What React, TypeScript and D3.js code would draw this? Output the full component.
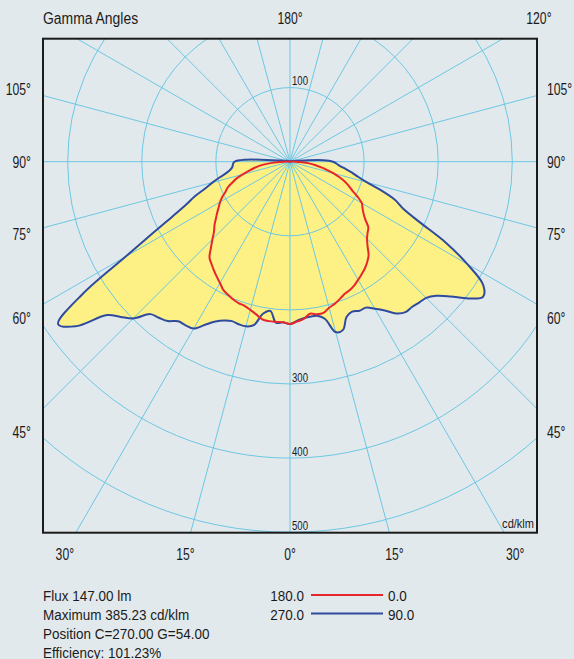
import React, { useEffect, useRef } from "react"
import * as d3 from "d3"

// gamma angles (deg from nadir) shared by all C-planes
const gammaAngles = [
  0, 2.5, 5, 7.5, 10, 12.5, 15, 17.5, 20, 22.5, 25, 27.5, 30, 32.5, 35, 37.5, 40, 42.5, 45, 47.5,
  50, 52.5, 55, 57.5, 60, 62.5, 65, 67.5, 70, 72.5, 75, 77.5, 80, 82.5, 85, 87.5, 90,
  92.5, 95, 97.5, 100, 105, 110, 120, 135, 150, 165, 180,
]

// intensities in cd/klm
const c0Values = [
  219, 216, 213, 207, 209, 209, 204, 201, 197, 193, 191, 188, 184, 180, 176, 171, 165, 155, 147, 142,
  138, 128, 121, 116, 112, 103, 93, 86, 79, 70, 61, 51, 42, 34, 26, 16, 8,
  3, 1, 0.5, 0, 0, 0, 0, 0, 0, 0, 0,
]
const c180Values = [
  219, 217, 217, 217, 216, 211, 207, 204, 203, 201, 198, 195, 189, 184, 179, 174, 169, 158, 148, 139,
  133, 126, 120, 114, 109, 103, 96, 91, 83, 76, 66, 57, 49, 41, 30, 18, 8,
  3, 1, 0.5, 0, 0, 0, 0, 0, 0, 0, 0,
]
const c90Values = [
  219, 215, 212, 211, 211, 217, 238, 238, 223, 219, 222, 222, 229, 238, 250, 256, 256, 258, 260, 268,
  283, 303, 318, 309, 276, 238, 193, 165, 151, 129, 107, 94, 85, 76, 68, 63, 58,
  45, 20, 10, 6, 4, 3, 2, 1, 0.5, 0, 0,
]
const c270Values = [
  219, 217, 218, 203, 208, 226, 230, 230, 229, 232, 238, 248, 260, 262, 263, 271, 275, 279, 299, 310,
  322, 365, 382, 331, 256, 209, 175, 152, 137, 120, 108, 97, 87, 81, 78, 77, 75,
  60, 24, 12, 8, 5, 3, 2, 1, 0.5, 0, 0,
]

const ringValues = [100, 200, 300, 400, 500]
const ringLabelsTop = [100]
const ringLabelsBottom = [300, 400, 500]
const spokeAngles = [0, 15, 30, 45, 60, 75, 90, 105, 120, 135, 150, 165, 180]
const sideTicks = [45, 60, 75, 90, 105]
const bottomTicks = [-30, -15, 0, 15, 30]
const topTicks = [180, 120]

const infoLines = ["Flux 147.00 lm", "Maximum 385.23 cd/klm", "Position C=270.00 G=54.00", "Efficiency: 101.23%"]
const legendLeft = ["180.0", "270.0"]
const legendRight = ["0.0", "90.0"]

const W = 574
const H = 659
const RED = "#e5262b"
const BLUE = "#2f4b9d"
const GRID = "#6cc7e3"
const FILL = "#fdf084"
const BG = "#e2e9ed"
const INK = "#1b1b1b"
const SANS = "'Liberation Sans', Arial, sans-serif"

type G = d3.Selection<SVGGElement, unknown, null, undefined>

// condensed-looking text: regular sans squeezed horizontally
const narrowText = (g: G, x: number, y: number, s: string, anchor: string, size: number, sx: number) => {
  g.append("g").attr("transform", `translate(${x},${y}) scale(${sx},1)`)
    .append("text").attr("text-anchor", anchor).attr("font-size", size).text(s)
}

export default function App() {
  const ref = useRef<SVGSVGElement>(null)

  useEffect(() => {
    const svg = d3.select(ref.current)
    svg.selectAll("*").remove()

    const box = { left: 43, top: 38.7, right: 537, bottom: 532.7 }
    const cx = (box.left + box.right) / 2
    const cy = box.top + 123
    const r = d3.scaleLinear().domain([0, 500]).range([0, 370.5])
    const rad = (d: number) => (d * Math.PI) / 180

    svg.append("rect").attr("width", W).attr("height", H).attr("fill", BG)

    svg.append("defs").append("clipPath").attr("id", "boxclip")
      .append("rect").attr("x", box.left).attr("y", box.top)
      .attr("width", box.right - box.left).attr("height", box.bottom - box.top)

    const chart = svg.append("g").attr("clip-path", "url(#boxclip)")
      .append("g").attr("transform", `translate(${cx},${cy})`)

    // left half goes 180 -> 0, right half 0 -> 180
    const plane = (left: number[], right: number[]) => {
      const pts: { a: number; v: number }[] = []
      for (let i = gammaAngles.length - 1; i >= 0; i--) pts.push({ a: Math.PI + rad(gammaAngles[i]), v: left[i] })
      for (let i = 1; i < gammaAngles.length; i++) pts.push({ a: Math.PI - rad(gammaAngles[i]), v: right[i] })
      return pts
    }
    const line = d3.lineRadial<{ a: number; v: number }>()
      .angle(d => d.a).radius(d => r(d.v)).curve(d3.curveCatmullRom.alpha(0.5))

    const bluePts = plane(c270Values, c90Values)
    const redPts = plane(c180Values, c0Values)

    chart.selectAll(".area").data([bluePts, redPts]).join("path").attr("class", "area")
      .attr("d", d => line(d) + "Z").attr("fill", FILL).attr("stroke", "none")

    chart.selectAll(".ring").data(ringValues).join("circle").attr("class", "ring")
      .attr("r", d => r(d)).attr("fill", "none").attr("stroke", GRID).attr("stroke-width", 1)

    const spokes = spokeAngles.flatMap(a => (a === 0 || a === 180 ? [a] : [a, -a]))
    chart.selectAll(".spoke").data(spokes).join("line").attr("class", "spoke")
      .attr("x1", 0).attr("y1", 0)
      .attr("x2", d => 700 * Math.sin(rad(d))).attr("y2", d => 700 * Math.cos(rad(d)))
      .attr("stroke", GRID).attr("stroke-width", 1)

    chart.selectAll(".curve").data([{ p: bluePts, c: BLUE }, { p: redPts, c: RED }]).join("path").attr("class", "curve")
      .attr("d", d => line(d.p) + "Z").attr("fill", "none").attr("stroke", d => d.c)
      .attr("stroke-width", 2).attr("stroke-linejoin", "round")

    const labels = svg.append("g").attr("font-family", SANS).attr("fill", INK) as unknown as G
    ringLabelsTop.forEach(v => narrowText(labels, cx + 2, cy - r(v) - 2.5, String(v), "start", 12, 0.8))
    ringLabelsBottom.forEach(v => narrowText(labels, cx + 2, cy + r(v) - 2, String(v), "start", 12, 0.8))

    svg.append("rect").attr("x", box.left).attr("y", box.top)
      .attr("width", box.right - box.left).attr("height", box.bottom - box.top)
      .attr("fill", "none").attr("stroke", INK).attr("stroke-width", 2)

    narrowText(labels, box.right - 3, box.bottom - 5, "cd/klm", "end", 13, 0.85)

    // angle ticks: spoke extended to a frame just outside the box
    const ticks = svg.append("g").attr("font-family", SANS).attr("fill", INK) as unknown as G
    const sideD = 270
    const tickSize = 16.5
    const tickSx = 0.74
    const mid = 6
    sideTicks.forEach(d => {
      const y = cy + sideD / Math.tan(rad(d)) + mid
      narrowText(ticks, 31, y, `${d}°`, "end", tickSize, tickSx)
      narrowText(ticks, 547, y, `${d}°`, "start", tickSize, tickSx)
    })
    const bottomD = 390
    bottomTicks.forEach(d =>
      narrowText(ticks, cx + bottomD * Math.tan(rad(d)), cy + bottomD + 2 + mid, `${Math.abs(d)}°`, "middle", tickSize, tickSx))
    const topY = 18
    topTicks.forEach(d =>
      narrowText(ticks, cx + (cy - topY) * Math.tan(rad(180 - d)), topY + mid, `${d}°`, "middle", tickSize, tickSx))

    narrowText(ticks, box.left, topY + mid, "Gamma Angles", "start", 16, 0.87)

    // info block and legend
    const info = svg.append("g").attr("font-family", SANS).attr("fill", INK) as unknown as G
    infoLines.forEach((s, i) => narrowText(info, box.left, 600.5 + i * 19, s, "start", 14.5, 0.93))
    legendLeft.forEach((s, i) => narrowText(info, 304, 600.5 + i * 19, s, "end", 14.5, 0.93))
    legendRight.forEach((s, i) => narrowText(info, 388, 600.5 + i * 19, s, "start", 14.5, 0.93))
    info.selectAll(".lline").data([RED, BLUE]).join("line").attr("class", "lline")
      .attr("x1", 311).attr("x2", 383).attr("y1", (d, i) => 595 + i * 18.5).attr("y2", (d, i) => 595 + i * 18.5)
      .attr("stroke", d => d).attr("stroke-width", 2)
  }, [])

  return <svg ref={ref} width={W} height={H} style={{ position: "absolute", left: 0, top: 0 }} />
}
